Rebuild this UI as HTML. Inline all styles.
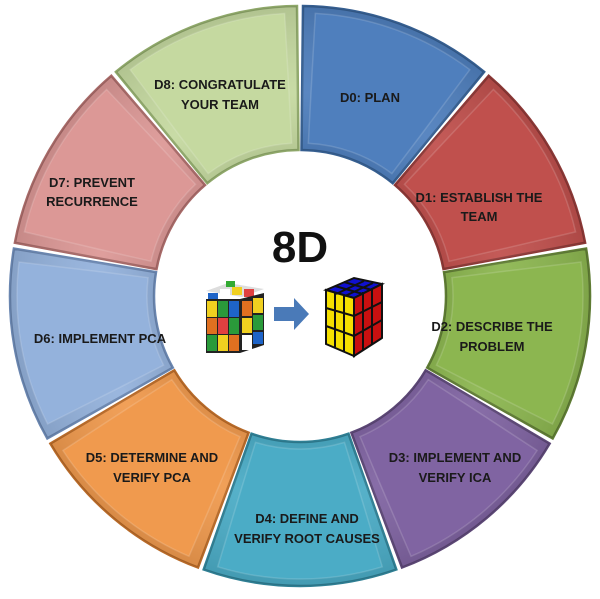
<!DOCTYPE html>
<html><head><meta charset="utf-8"><style>
html,body{margin:0;padding:0;background:#fff;width:600px;height:599px;overflow:hidden}
svg text{font-family:"Liberation Sans",sans-serif;font-weight:bold;fill:#1a1a1a}
</style></head><body>
<svg id="s" width="600" height="599" viewBox="0 0 600 599" xmlns="http://www.w3.org/2000/svg">
<defs>
<radialGradient id="shade" cx="300" cy="296" r="290" gradientUnits="userSpaceOnUse">
<stop offset="0.5" stop-color="#000" stop-opacity="0.08"/>
<stop offset="0.7" stop-color="#fff" stop-opacity="0.06"/>
<stop offset="1" stop-color="#000" stop-opacity="0.1"/>
</radialGradient>
</defs>
<g id="ring"></g>
<text x="300" y="262" font-size="44" text-anchor="middle" style="fill:#111">8D</text>
<g transform="translate(206,283)">
<polygon points="0,8 22,0 58,6 36,14" fill="#ddd"/>
<rect x="2" y="10" width="10" height="9" fill="#1e64c8"/><rect x="14" y="6" width="10" height="8" fill="#fff"/><rect x="26" y="4" width="10" height="8" fill="#f0d020"/><rect x="38" y="6" width="10" height="8" fill="#e04040"/><rect x="20" y="-2" width="9" height="6" fill="#3a3"/>
<rect x="0" y="16" width="34" height="54" fill="#222"/>
<rect x="1" y="18" width="10" height="16" fill="#f0d020"/><rect x="12" y="18" width="10" height="16" fill="#2a9a3a"/><rect x="23" y="18" width="10" height="16" fill="#1e64c8"/>
<rect x="1" y="35" width="10" height="16" fill="#e07020"/><rect x="12" y="35" width="10" height="16" fill="#e04040"/><rect x="23" y="35" width="10" height="16" fill="#2a9a3a"/>
<rect x="1" y="52" width="10" height="16" fill="#2a9a3a"/><rect x="12" y="52" width="10" height="16" fill="#f0d020"/><rect x="23" y="52" width="10" height="16" fill="#e07020"/>
<polygon points="34,16 58,10 58,62 34,70" fill="#222"/>
<rect x="36" y="18" width="10" height="15" fill="#e07020"/><rect x="47" y="15" width="10" height="15" fill="#f0d020"/>
<rect x="36" y="35" width="10" height="15" fill="#f0d020"/><rect x="47" y="32" width="10" height="15" fill="#2a9a3a"/>
<rect x="36" y="52" width="10" height="15" fill="#fff"/><rect x="47" y="49" width="10" height="12" fill="#1e64c8"/>
</g>
<polygon points="274,307 294,307 294,298 309,314 294,330 294,321 274,321" fill="#4a7ab8"/>
<g transform="translate(324,274)">
<polygon points="2,16 30,4 58,10 30,24" fill="#1010d0" stroke="#111" stroke-width="2"/>
<polygon points="2,16 30,24 30,82 2,70" fill="#f5e000" stroke="#111" stroke-width="2"/>
<polygon points="30,24 58,10 58,64 30,82" fill="#c81010" stroke="#111" stroke-width="2"/>
<path d="M11,19 L11,73 M20,21 L20,77 M2,34 L30,42 M2,52 L30,62 M39,18 L39,76 M48,14 L48,70 M30,42 L58,28 M30,62 L58,46 M11,12 L39,20 M20,8 L48,16 M12,20 L40,7 M21,22 L49,9" stroke="#111" stroke-width="2" fill="none"/>
</g>
<g font-size="13" text-anchor="middle">
<text x="370" y="102">D0: PLAN</text>
<text x="479" y="202">D1: ESTABLISH THE</text><text x="479" y="221">TEAM</text>
<text x="492" y="331">D2: DESCRIBE THE</text><text x="492" y="351">PROBLEM</text>
<text x="455" y="462">D3: IMPLEMENT AND</text><text x="455" y="482">VERIFY ICA</text>
<text x="307" y="523">D4: DEFINE AND</text><text x="307" y="543">VERIFY ROOT CAUSES</text>
<text x="152" y="462">D5: DETERMINE AND</text><text x="152" y="482">VERIFY PCA</text>
<text x="100" y="343">D6: IMPLEMENT PCA</text>
<text x="92" y="187">D7: PREVENT</text><text x="92" y="206">RECURRENCE</text>
<text x="220" y="89">D8: CONGRATULATE</text><text x="220" y="109">YOUR TEAM</text>
</g>
</svg>
<script>
(function(){
var cx=300,cy=296,R=290,r=146;
var cols=["#4f7fbd","#c0504d","#8cb650","#8064a2","#4bacc6","#f09a4e","#94b2dc","#dc9896","#c5d9a0"];
var strokes=["#365f91","#8c3836","#5f7c34","#5c4776","#2f7f94","#b86a28","#6a86b0","#a86a68","#8fa86a"];
var g=document.getElementById("ring"),h="";
function pt(rad,a){a=a*Math.PI/180;return (cx+rad*Math.sin(a)).toFixed(1)+","+(cy-rad*Math.cos(a)).toFixed(1);}
for(var i=0;i<9;i++){
 var a0=i*40+0.6,a1=(i+1)*40-0.6;
 var d="M"+pt(r,a0)+" L"+pt(R,a0)+" A"+R+","+R+" 0 0 1 "+pt(R,a1)+" L"+pt(r,a1)+" A"+r+","+r+" 0 0 0 "+pt(r,a0)+"Z";
 h+='<path d="'+d+'" fill="'+cols[i]+'" stroke="'+strokes[i]+'" stroke-width="2.5"/>';
 h+='<path d="'+d+'" fill="url(#shade)"/>';
 var a2=a0+2.5,a3=a1-2.5,R2=R-7,r2=r+7;
 var d2="M"+pt(r2,a2)+" L"+pt(R2,a2)+" A"+R2+","+R2+" 0 0 1 "+pt(R2,a3)+" L"+pt(r2,a3)+" A"+r2+","+r2+" 0 0 0 "+pt(r2,a2)+"Z";
 h+='<path d="'+d2+'" fill="'+cols[i]+'" stroke="#fff" stroke-opacity="0.15" stroke-width="1.5"/>';
}
g.innerHTML=h;
})();
</script>
</body></html>
